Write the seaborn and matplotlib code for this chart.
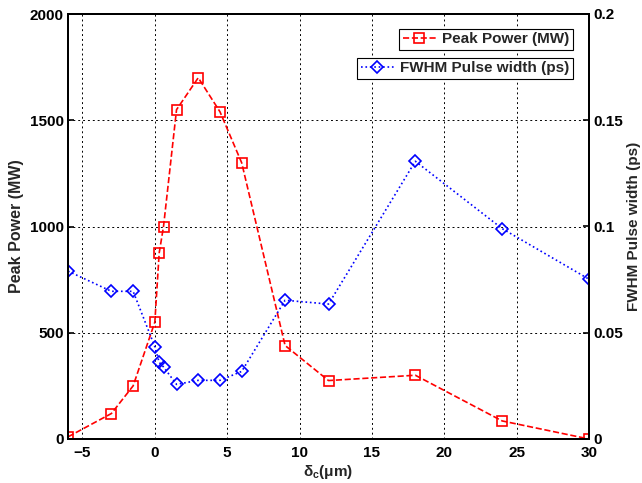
import numpy as np
import pandas as pd
import matplotlib
matplotlib.use("Agg")
import matplotlib.pyplot as plt
import seaborn as sns

# Data
delta_c = [-6, -3, -1.5, 0, 0.3, 0.6, 1.5, 3, 4.5, 6, 9, 12, 18, 24, 30]
peak_power = [10, 120, 250, 550, 875, 1000, 1550, 1700, 1540, 1300, 440, 275, 300, 85, 0]
fwhm_width = [0.079, 0.0695, 0.0695, 0.0434, 0.0361, 0.0339, 0.0257, 0.0276, 0.0276,
              0.0318, 0.0653, 0.0635, 0.1307, 0.099, 0.0752]
x_ticks = [-5, 0, 5, 10, 15, 20, 25, 30]
left_ticks = [0, 500, 1000, 1500, 2000]
right_ticks = [0, 0.05, 0.1, 0.15, 0.2]
right_tick_labels = ["0", "0.05", "0.1", "0.15", "0.2"]

sns.set_style("white")
plt.rcParams['font.family'] = ['Liberation Sans', 'DejaVu Sans']
plt.rcParams['font.weight'] = 'bold'
plt.rcParams['mathtext.fontset'] = 'custom'
plt.rcParams['mathtext.rm'] = 'Liberation Sans:bold'
plt.rcParams['mathtext.it'] = 'Liberation Sans:bold'
plt.rcParams['mathtext.default'] = 'rm'

df = pd.DataFrame({"delta": delta_c, "power": peak_power, "width": fwhm_width})

fig = plt.figure(figsize=(6.42, 4.83), dpi=100)
ax = fig.add_axes([68/642, 1-439/483, (589-68)/642, (439-14)/483])
ax2 = ax.twinx()

sns.lineplot(data=df, x="delta", y="power", ax=ax, sort=False, color="red",
             linestyle="--", marker="s", markersize=7, markerfacecolor="none",
             markeredgecolor="red", markeredgewidth=1.2, linewidth=1.2,
             label="Peak Power (MW)")
sns.lineplot(data=df, x="delta", y="width", ax=ax2, sort=False, color="blue",
             linestyle=":", marker="D", markersize=6, markerfacecolor="none",
             markeredgecolor="blue", markeredgewidth=1.2, linewidth=1.2,
             label="FWHM Pulse width (ps)")

ax.set_xlim(-6, 30)
ax.set_ylim(0, 2000)
ax2.set_ylim(0, 0.2)
ax.set_xticks(x_ticks)
ax.set_yticks(left_ticks)
ax2.set_yticks(right_ticks)
ax2.set_yticklabels(right_tick_labels)

ax.grid(True, color="black", linestyle=(0, (2, 3)), linewidth=0.7)
for a in (ax, ax2):
    for s in a.spines.values():
        s.set_color("black")
        s.set_linewidth(1.4)
ax.tick_params(axis="both", direction="in", length=4, width=1.2, labelsize=11,
               colors="black", pad=3)
ax.tick_params(axis="x", pad=5)
ax2.tick_params(axis="y", direction="in", length=4, width=1.2, labelsize=11,
                colors="black", pad=3)
for lbl in ax.get_xticklabels() + ax.get_yticklabels() + ax2.get_yticklabels():
    lbl.set_fontweight("bold")

ax.set_xlabel("δ$_c$(μm)", fontsize=11, fontweight="bold", labelpad=2)
ax.set_ylabel("Peak Power (MW)", fontsize=11.5, fontweight="bold", labelpad=4)
ax2.set_ylabel("FWHM Pulse width (ps)", fontsize=11, fontweight="bold", labelpad=3)

leg1 = ax.legend(loc="upper right", bbox_to_anchor=(581/642, 1-21/483),
                 bbox_transform=fig.transFigure, frameon=True, fancybox=False,
                 framealpha=1, edgecolor="black", borderpad=0.25, handlelength=2.2,
                 handletextpad=0.4, prop={"size": 11, "weight": "bold"})
leg1.get_frame().set_linewidth(0.8)
leg2 = ax2.legend(loc="upper right", bbox_to_anchor=(581/642, 1-50/483),
                  bbox_transform=fig.transFigure, frameon=True, fancybox=False,
                  framealpha=1, edgecolor="black", borderpad=0.25, handlelength=2.2,
                  handletextpad=0.4, prop={"size": 11, "weight": "bold"})
leg2.get_frame().set_linewidth(0.8)

fig.savefig("out.png", dpi=100)
